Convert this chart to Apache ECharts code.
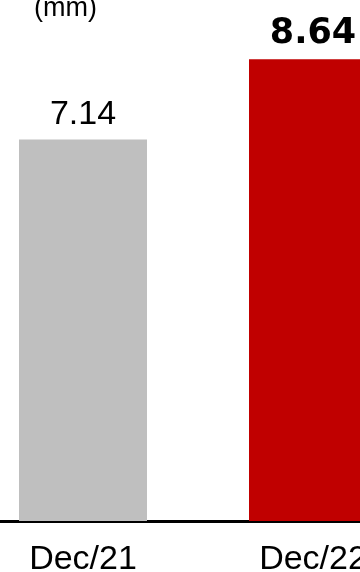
<!DOCTYPE html>
<html>
<head>
<meta charset="utf-8">
<style>
  html, body { margin: 0; padding: 0; background: #ffffff; }
  #chart { width: 360px; height: 572px; }
</style>
<script src="https://cdn.jsdelivr.net/npm/echarts@6/dist/echarts.min.js"></script>
</head>
<body>
<div id="chart"></div>
<script>
// Periods and measured values (mm)
const categories = ['Dec/21', 'Dec/22'];
const values = [7.14, 8.64];
const barColors = ['#BFBFBF', '#C00000'];
const labelWeights = ['normal', 'bold'];
const unitLabel = '(mm)';

const FONT = '"Liberation Sans", Arial, sans-serif';
const BOLD_FONT = '"DejaVu Sans", sans-serif';

const chart = echarts.init(document.getElementById('chart'), null, { renderer: 'canvas' });

chart.setOption({
  animation: false,
  backgroundColor: '#ffffff',
  title: {
    text: unitLabel,
    left: 29,
    top: -10,
    textStyle: { fontFamily: FONT, fontSize: 27, fontWeight: 'normal', color: '#000000' }
  },
  // the plot area is wider than the page, so the second bar runs off the right edge
  grid: { left: -32, width: 460, top: 0, bottom: 51, containLabel: false, outerBoundsMode: 'none' },
  xAxis: {
    type: 'category',
    data: categories,
    axisLine: { show: true, lineStyle: { color: '#000000', width: 3 } },
    axisTick: { show: false },
    axisLabel: {
      interval: 0,
      margin: 22,
      fontFamily: FONT,
      fontSize: 34,
      color: '#000000'
    }
  },
  yAxis: {
    type: 'value',
    min: 0,
    max: 9.75,
    show: false,
    splitLine: { show: false }
  },
  series: [{
    type: 'bar',
    barWidth: 128,
    data: values.map((v, i) => ({
      value: v,
      itemStyle: { color: barColors[i] },
      label: {
        show: true,
        position: 'top',
        distance: 8,
        fontFamily: labelWeights[i] === 'bold' ? BOLD_FONT : FONT,
        fontSize: labelWeights[i] === 'bold' ? 35 : 34,
        fontWeight: labelWeights[i],
        color: '#000000',
        formatter: (p) => p.value.toFixed(2)
      }
    }))
  }]
});
</script>
</body>
</html>
